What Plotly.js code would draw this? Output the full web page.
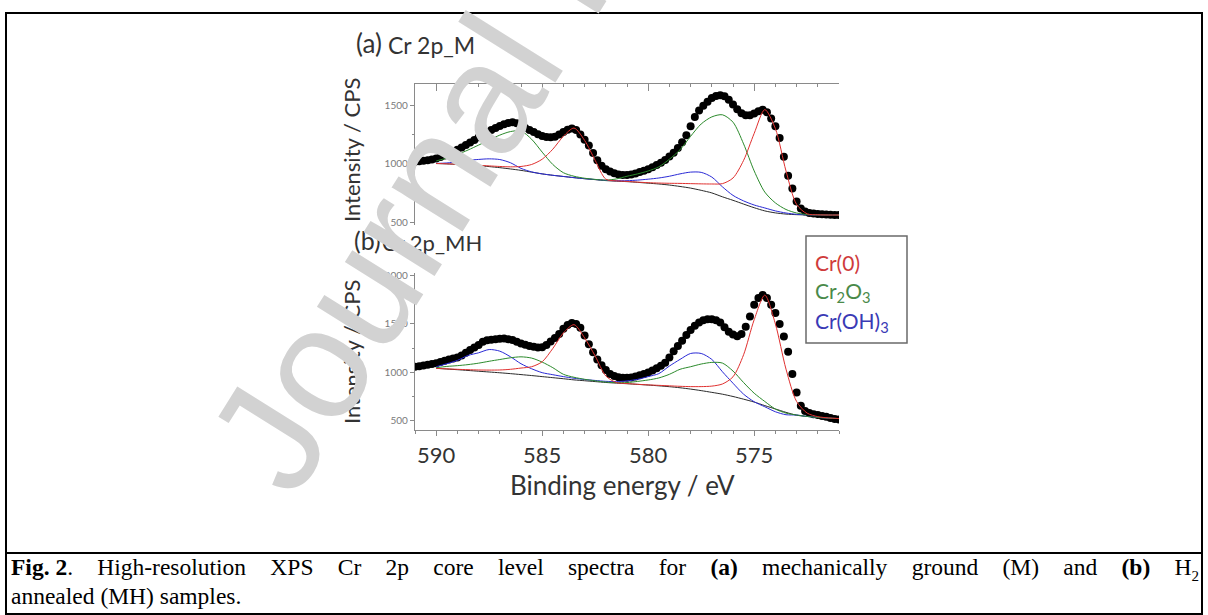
<!DOCTYPE html>
<html>
<head>
<meta charset="utf-8">
<script src="https://cdn.plot.ly/plotly-3.0.1.min.js"></script>
<style>
  html, body { margin: 0; padding: 0; background: #fff; }
  #wrap { position: relative; width: 1208px; height: 615px; overflow: hidden; }
  #chart { position: absolute; left: 0; top: 0; width: 1208px; height: 615px; }
  .cap { position: absolute; left: 11px; width: 1188px; font-family: "Liberation Serif", "Times New Roman", serif;
         font-size: 23.5px; line-height: 26px; color: #000; white-space: nowrap; }
  #cap1 { top: 554px; text-align: justify; text-align-last: justify; white-space: normal; }
  #cap2 { top: 583px; }
  .nb { display: inline-block; white-space: nowrap; }
</style>
</head>
<body>
<div id="wrap">
  <div id="chart"></div>
  <div class="cap" id="cap1"><span class="nb"><b>Fig. 2</b>.</span> High-resolution XPS Cr 2p core level spectra for <b>(a)</b> mechanically ground (M) and <b>(b)</b> <span class="nb">H<sub style="font-size:15px;line-height:0">2</sub></span></div>
  <div class="cap" id="cap2">annealed (MH) samples.</div>
</div>
<script>
// ---------- DATA ----------
// measured spectra (binding energy, eV) at 0.2 eV steps
const energyData = [591.0,590.8,590.6,590.4,590.2,590.0,589.8,589.6,589.4,589.2,589.0,588.8,588.6,588.4,588.2,588.0,587.8,587.6,587.4,587.2,587.0,586.8,586.6,586.4,586.2,586.0,585.8,585.6,585.4,585.2,585.0,584.8,584.6,584.4,584.2,584.0,583.8,583.6,583.4,583.2,583.0,582.8,582.6,582.4,582.2,582.0,581.8,581.6,581.4,581.2,581.0,580.8,580.6,580.4,580.2,580.0,579.8,579.6,579.4,579.2,579.0,578.8,578.6,578.4,578.2,578.0,577.8,577.6,577.4,577.2,577.0,576.8,576.6,576.4,576.2,576.0,575.8,575.6,575.4,575.2,575.0,574.8,574.6,574.4,574.2,574.0,573.8,573.6,573.4,573.2,573.0,572.8,572.6,572.4,572.2,572.0,571.8,571.6,571.4,571.2,571.0];

const dataM = [1018,1022,1027,1032,1038,1046,1058,1071,1086,1102,1120,1140,1160,1182,1204,1226,1248,1268,1288,1306,1322,1337,1349,1354,1345,1326,1306,1288,1271,1252,1237,1228,1226,1232,1250,1271,1290,1301,1288,1250,1205,1157,1092,1030,985,955,935,920,910,905,905,910,918,930,942,955,971,990,1010,1034,1063,1095,1135,1185,1243,1320,1400,1455,1495,1530,1560,1578,1584,1575,1545,1505,1465,1432,1415,1414,1428,1448,1460,1440,1386,1320,1220,1060,900,790,680,620,595,583,577,574,571,569,567,566,565];

const dataMH = [1055,1060,1067,1075,1083,1092,1105,1118,1130,1140,1152,1172,1200,1228,1255,1282,1315,1330,1336,1340,1345,1348,1342,1332,1315,1298,1283,1270,1262,1255,1258,1282,1318,1355,1395,1450,1490,1510,1500,1460,1380,1290,1205,1130,1070,1020,978,958,945,941,940,942,952,965,978,995,1015,1040,1065,1097,1150,1217,1272,1325,1385,1438,1482,1515,1538,1550,1550,1538,1515,1465,1420,1390,1372,1395,1470,1579,1700,1770,1803,1770,1700,1614,1500,1370,1210,980,786,648,595,572,560,552,543,533,522,510,505];

// fitted components at 0.5 eV steps
const energyFit = [590.0,589.5,589.0,588.5,588.0,587.5,587.0,586.5,586.0,585.5,585.0,584.5,584.0,583.5,583.0,582.5,582.0,581.5,581.0,580.5,580.0,579.5,579.0,578.5,578.0,577.5,577.0,576.5,576.0,575.5,575.0,574.5,574.0,573.5,573.0,572.5,572.0,571.5,571.0];

const bgM    = [1003,1000,996,991,985,977,968,957,945,930,915,903,893,883,874,866,858,853,849,843,836,829,820,808,794,775,753,720,690,658,627,600,583,573,568,566,565,565,565];
const cr0M   = [1004,1001,997,993,988,983,978,975,978,995,1040,1125,1235,1305,1200,1030,870,856,851,845,840,837,835,834,832,830,829,832,880,1030,1260,1462,1300,940,655,575,567,565,565];
const cr2o3M = [1025,1050,1080,1118,1160,1203,1245,1275,1280,1210,1100,995,925,895,878,868,862,872,895,915,940,975,1040,1120,1235,1340,1400,1418,1355,1170,940,760,668,612,582,569,566,565,565];
const crohM  = [1004,1008,1018,1030,1038,1043,1037,1010,962,932,915,903,893,883,874,867,860,857,857,862,870,880,895,915,930,928,888,805,732,685,650,625,600,582,571,567,566,565,565];

const bgMH    = [1038,1031,1024,1016,1008,1000,992,983,973,963,952,941,930,918,909,900,891,884,878,871,864,856,847,836,822,806,788,769,745,717,687,650,615,580,550,537,528,520,515];
const cr0MH   = [1038,1033,1028,1024,1021,1020,1021,1028,1041,1055,1107,1245,1407,1493,1355,1166,959,890,880,872,866,861,856,851,848,848,853,875,950,1180,1545,1800,1500,1030,693,572,535,522,515];
const cr2o3MH = [1045,1058,1066,1077,1092,1112,1130,1148,1158,1145,1103,1045,976,945,924,908,895,890,890,902,917,938,976,1028,1055,1083,1100,1093,1010,890,779,693,614,572,552,537,527,520,515];
const crohMH  = [1055,1086,1121,1172,1200,1234,1217,1159,1086,1034,993,972,952,935,922,912,903,900,907,924,952,983,1062,1131,1193,1193,1131,1003,883,769,690,638,586,555,552,537,527,520,515];

const xTickStep = 5;
const yTickStep = 500;
const panelLabels = ["(a)", "(b)"];
const panelNames = ["Cr 2p_M", "Cr 2p_MH"];
const legendNames = ["Cr(0)", "Cr<sub>2</sub>O<sub>3</sub>", "Cr(OH)<sub>3</sub>"];
const xTitle = "Binding energy / eV";
const yTitle = "Intensity / CPS";
const watermark = "Journal Pre-proof";

// ---------- STYLE ----------
const W = 1208, H = 615;
const px = v => v / W;
const py = v => 1 - v / H;
const FONT = "Lato, 'Open Sans', sans-serif";
const cRed = "#e0302f", cGreen = "#2b8a2b", cBlue = "#2a2ad6", cBg = "#2a2a2a";
const axisCol = "#8a8a8a";

function comp(x, y, color, xa, ya) {
  return { x: x, y: y, type: "scatter", mode: "lines", xaxis: xa, yaxis: ya,
           line: { color: color, width: 1, shape: "spline", smoothing: 0.8 }, hoverinfo: "skip", showlegend: false };
}
function dots(x, y, xa, ya) {
  return { x: x, y: y, type: "scatter", mode: "markers", xaxis: xa, yaxis: ya,
           marker: { color: "#000", size: 8 }, hoverinfo: "skip", showlegend: false };
}

const traces = [
  dots(energyData, dataM, "x2", "y2"),
  comp(energyFit, bgM, cBg, "x2", "y2"),
  comp(energyFit, crohM, cBlue, "x2", "y2"),
  comp(energyFit, cr2o3M, cGreen, "x2", "y2"),
  comp(energyFit, cr0M, cRed, "x2", "y2"),
  dots(energyData, dataMH, "x", "y"),
  comp(energyFit, bgMH, cBg, "x", "y"),
  comp(energyFit, crohMH, cBlue, "x", "y"),
  comp(energyFit, cr2o3MH, cGreen, "x", "y"),
  comp(energyFit, cr0MH, cRed, "x", "y")
];

const xDomain = [px(415), px(839)];
const xRange = [591, 571];

const baseY = {
  showline: true, linecolor: axisCol, linewidth: 1.2, zeroline: false, showgrid: false,
  ticks: "outside", ticklen: 4, tickwidth: 1, tickcolor: axisCol,
  tick0: 0, dtick: yTickStep,
  tickfont: { family: FONT, size: 10, color: "#7a7a7a" },
  minor: { dtick: yTickStep / 2, ticks: "outside", ticklen: 2, tickcolor: axisCol, tickwidth: 1 }
};

function ann(text, x, y, size, color, extra) {
  return Object.assign({ text: text, x: px(x), y: py(y), xref: "paper", yref: "paper",
    xanchor: "center", yanchor: "middle",
    showarrow: false, font: { family: FONT, size: size, color: color } }, extra || {});
}

const layout = {
  width: W, height: H,
  margin: { l: 0, r: 0, t: 0, b: 0 },
  paper_bgcolor: "#fff", plot_bgcolor: "rgba(0,0,0,0)",
  showlegend: false,
  xaxis: {
    domain: xDomain, range: xRange, anchor: "y",
    showline: true, linecolor: axisCol, linewidth: 1.2, zeroline: false, showgrid: false,
    ticks: "outside", ticklen: 5, tickwidth: 1.2, tickcolor: axisCol,
    tick0: 0, dtick: xTickStep,
    tickfont: { family: FONT, size: 22, color: "#333" },
    minor: { dtick: 1, ticks: "outside", ticklen: 3, tickcolor: axisCol, tickwidth: 1 }
  },
  xaxis2: {
    domain: xDomain, range: xRange, anchor: "y2", side: "top",
    showline: true, linecolor: axisCol, linewidth: 1.2, zeroline: false, showgrid: false,
    ticks: "inside", ticklen: 7, tickwidth: 1.2, tickcolor: axisCol,
    tick0: 0, dtick: xTickStep, showticklabels: false,
    minor: { dtick: 1, ticks: "inside", ticklen: 3, tickcolor: axisCol, tickwidth: 1 }
  },
  yaxis: Object.assign({}, baseY, { domain: [py(430), py(273)], range: [396, 2031], anchor: "x" }),
  yaxis2: Object.assign({}, baseY, { domain: [py(225), py(84)], range: [480, 1680], anchor: "x2" }),
  shapes: [
    { type: "rect", xref: "paper", yref: "paper", x0: px(6), x1: px(1202), y0: py(13), y1: py(614),
      line: { color: "#000", width: 2 }, fillcolor: "rgba(0,0,0,0)", layer: "below" },
    { type: "line", xref: "paper", yref: "paper", x0: px(6), x1: px(1202), y0: py(553), y1: py(553),
      line: { color: "#000", width: 2 } },
    { type: "rect", xref: "paper", yref: "paper", x0: px(806), x1: px(907), y0: py(236), y1: py(343),
      line: { color: "#6a6a6a", width: 1.5 }, fillcolor: "#fff", layer: "above" }
  ],
  annotations: [
    ann(panelLabels[0], 354, 43, 26, "#333", { xanchor: "left" }),
    ann(panelNames[0], 386, 45, 23, "#333", { xanchor: "left" }),
    ann(panelLabels[1], 352, 240, 25, "#333", { xanchor: "left" }),
    ann(panelNames[1], 380, 242, 22, "#333", { xanchor: "left" }),
    ann(yTitle, 351, 150, 22, "#333", { textangle: -90 }),
    ann(yTitle, 351, 352, 22, "#333", { textangle: -90 }),
    ann(xTitle, 622, 485, 26, "#333"),
    ann(legendNames[0], 813, 262, 21, "#cf3b3b", { xanchor: "left" }),
    ann(legendNames[1], 813, 292, 21, "#4a8a4a", { xanchor: "left" }),
    ann(legendNames[2], 813, 322, 21, "#3a3ab5", { xanchor: "left" }),
    { text: watermark, x: px(571), y: py(-46), xref: "paper", yref: "paper", textangle: -58,
      xanchor: "center", yanchor: "middle",
      showarrow: false, font: { family: "Liberation Sans, Arial, sans-serif", size: 158, color: "#d2d2d2" } }
  ]
};

Plotly.newPlot("chart", traces, layout, { staticPlot: true, displayModeBar: false });
</script>
</body>
</html>
